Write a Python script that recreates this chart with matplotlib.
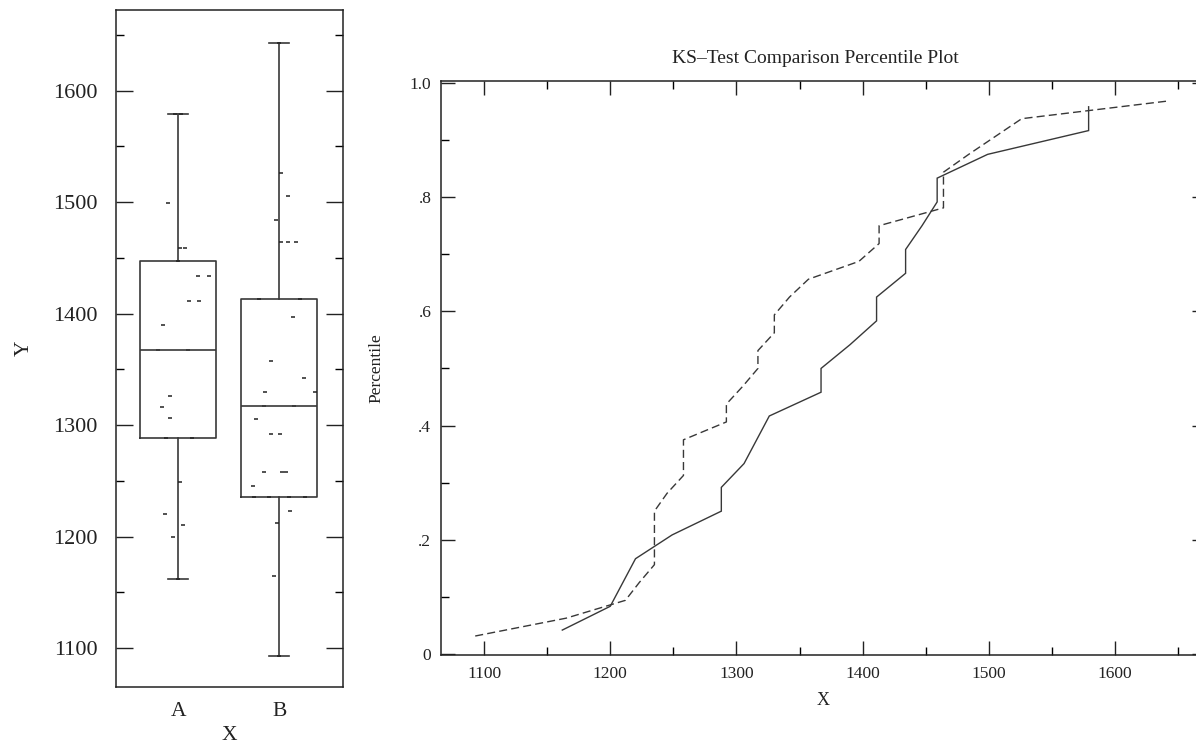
import numpy as np
import matplotlib
matplotlib.use("Agg")
import matplotlib.pyplot as plt
from matplotlib.ticker import MultipleLocator, FixedLocator, FixedFormatter

# ---- data -------------------------------------------------------------
groups = ["A", "B"]

a_values = [1162, 1200, 1210, 1220, 1249, 1288, 1288, 1306, 1316, 1326,
            1367, 1367, 1390, 1411, 1411, 1434, 1434, 1447, 1459, 1459,
            1499, 1579, 1579]
b_values = [1093, 1165, 1212, 1223, 1235, 1235, 1235, 1235, 1245, 1258,
            1258, 1258, 1292, 1292, 1305, 1317, 1317, 1330, 1330, 1342,
            1357, 1397, 1413, 1413, 1464, 1464, 1464, 1484, 1505, 1526,
            1643]

# horizontal scatter of the raw observations inside each box column
a_jitter = [0.0, -0.05, 0.05, -0.13, 0.02, -0.12, 0.14, -0.08, -0.16, -0.08,
            -0.2, 0.1, -0.145, 0.106, 0.205, 0.195, 0.307, 0.0, 0.02, 0.07,
            -0.096, -0.03, 0.03]
b_jitter = [0.0, -0.05, -0.023, 0.109, -0.25, -0.1, 0.1, 0.25, -0.264, -0.155,
            0.03, 0.064, -0.08, 0.003, -0.23, -0.15, 0.15, -0.144, 0.35, 0.245,
            -0.08, 0.136, -0.2, 0.2, 0.017, 0.082, 0.168, -0.033, 0.086, 0.017,
            0.0]

box_yticks = [1100, 1200, 1300, 1400, 1500, 1600]
pct_yticks = [0.0, 0.2, 0.4, 0.6, 0.8, 1.0]
pct_ytick_labels = ["0", ".2", ".4", ".6", ".8", "1.0"]
pct_xticks = [1100, 1200, 1300, 1400, 1500, 1600]

title = "KS\u2013Test Comparison Percentile Plot"

# ---- style ------------------------------------------------------------
plt.rcParams["font.family"] = ["Liberation Serif", "DejaVu Serif"]
INK = "#222222"
LINE = "#383838"

W, H = 1196, 746
fig = plt.figure(figsize=(W / 100, H / 100), dpi=100)
fig.patch.set_facecolor("white")


def px_axes(left, top, right, bottom):
    return fig.add_axes([left / W, (H - bottom) / H, (right - left) / W, (bottom - top) / H])


def rank_quantile(vals, p):
    s = np.sort(np.asarray(vals, dtype=float))
    r = (len(s) + 1) * p
    lo = min(max(int(np.floor(r)), 1), len(s))
    hi = min(max(int(np.ceil(r)), 1), len(s))
    return s[lo - 1] + (r - np.floor(r)) * (s[hi - 1] - s[lo - 1])


def box_stats(vals, label):
    return dict(label=label,
                med=rank_quantile(vals, 0.5),
                q1=rank_quantile(vals, 0.25),
                q3=rank_quantile(vals, 0.75),
                whislo=float(np.min(vals)),
                whishi=float(np.max(vals)),
                fliers=[])


# ---- left panel: box plots with raw points ----------------------------
axb = px_axes(116, 10, 343, 686.7)
stats = [box_stats(a_values, groups[0]), box_stats(b_values, groups[1])]
lineprops = dict(color=LINE, linewidth=1.2)
axb.bxp(stats, positions=[1, 2], widths=0.75, capwidths=0.2, showfliers=False,
        boxprops=lineprops, whiskerprops=lineprops, capprops=lineprops,
        medianprops=lineprops, manage_ticks=False)

for pos, vals, jit in [(1, a_values, a_jitter), (2, b_values, b_jitter)]:
    axb.plot(pos + np.asarray(jit), vals, ls="none", marker="_",
             markersize=3.2, markeredgewidth=1.1, color=INK)

axb.set_xlim(0.386, 2.63)
axb.set_ylim(1065.3, 1672.2)
axb.set_xticks([1, 2])
axb.set_xticklabels(groups)
axb.yaxis.set_major_locator(FixedLocator(box_yticks))
axb.yaxis.set_minor_locator(MultipleLocator(50))
axb.tick_params(axis="x", length=0, pad=11, labelsize=15.5, colors=INK)
axb.tick_params(axis="y", which="major", direction="in", left=True, right=True,
                length=12.5, width=1.0, pad=13, labelsize=16, colors=INK)
axb.tick_params(axis="y", which="minor", direction="in", left=True, right=True,
                length=6, width=1.0)
axb.set_xlabel("X", fontsize=15.5, color=INK, labelpad=3.5)
axb.set_ylabel("Y", fontsize=15.5, color=INK, labelpad=14)
for sp in axb.spines.values():
    sp.set_linewidth(1.1)
    sp.set_color(INK)

# ---- right panel: percentile comparison ------------------------------
axp = px_axes(441, 81, 1206, 655)


def percentile_curve(vals):
    s = np.sort(np.asarray(vals, dtype=float))
    n = len(s)
    return s, np.arange(1, n + 1) / (n + 1)


ax_x, ax_p = percentile_curve(a_values)
bx_x, bx_p = percentile_curve(b_values)
axp.plot(ax_x, ax_p, color=LINE, linewidth=1.0, solid_joinstyle="miter")
axp.plot(bx_x, bx_p, color=LINE, linewidth=1.0, linestyle=(0, (5.8, 3.0)))

axp.set_xlim(1065.9, 1672)
axp.set_ylim(-0.002, 1.0035)
axp.xaxis.set_major_locator(FixedLocator(pct_xticks))
axp.xaxis.set_minor_locator(MultipleLocator(50))
axp.yaxis.set_major_locator(FixedLocator(pct_yticks))
axp.yaxis.set_major_formatter(FixedFormatter(pct_ytick_labels))
axp.yaxis.set_minor_locator(MultipleLocator(0.1))
axp.tick_params(axis="both", which="major", direction="in", top=True, right=True,
                length=10, width=1.0, labelsize=12.5, colors=INK)
axp.tick_params(axis="both", which="minor", direction="in", top=True, right=True,
                length=6, width=1.0)
axp.tick_params(axis="x", which="major", pad=8)
axp.tick_params(axis="y", which="major", pad=7)
axp.set_xlabel("X", fontsize=13, color=INK, labelpad=7)
axp.set_ylabel("Percentile", fontsize=12.5, color=INK, labelpad=18)
axp.set_title(title, fontsize=14, color=INK, pad=13, x=0.489)
for sp in axp.spines.values():
    sp.set_linewidth(1.1)
    sp.set_color(INK)

fig.savefig("out.png", dpi=100, facecolor="white")
